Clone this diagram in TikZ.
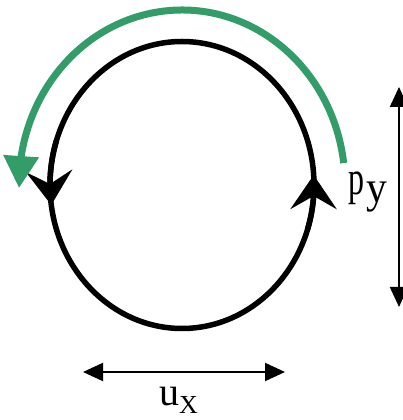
\documentclass[tikz,border=0pt]{standalone}
\usepackage{fontspec}
\setmainfont{Liberation Serif}
\usetikzlibrary{arrows.meta,bending}
\definecolor{flowgreen}{RGB}{50,157,104}
\tikzset{
  loopline/.style={draw, line width=5.5pt},
  dirtip/.style={line width=5.5pt, -{Stealth[length=34pt 0,width=46pt 0,inset=13pt 0]}},
  flowarrow/.style={draw=flowgreen, line width=7pt, -{Triangle[length=32pt,width=34pt,flex]}},
  dimarrow/.style={line width=2pt, {Triangle[length=20pt,width=18pt]}-{Triangle[length=20pt,width=18pt]}},
  lbl/.style={inner sep=0pt, anchor=base west}
}
\begin{document}
\begin{tikzpicture}[x=1pt,y=1pt]
  \useasboundingbox (0,0) rectangle (403,420);
  \coordinate (c) at (182,235);

  % closed orbit
  \draw[loopline] (c) ellipse [x radius=132, y radius=143.5];
  % direction marks on the orbit
  \coordinate (rtail) at ([shift={(-18:132 and 143.5)}]c);
  \coordinate (ltail) at ([shift={(162:132 and 143.5)}]c);
  \draw[dirtip] (rtail) arc[start angle=-18, end angle=4, x radius=132, y radius=143.5];
  \draw[dirtip] (ltail) arc[start angle=162, end angle=188, x radius=132, y radius=143.5];

  % green arrow round the top
  \coordinate (gstart) at ([shift={(7.2:163 and 175)}]c);
  \draw[flowarrow] (gstart) arc[start angle=7.2, end angle=181, x radius=163, y radius=175];

  % extents
  \coordinate (ytop) at (399,333);
  \coordinate (ybot) at (399,113);
  \coordinate (xleft) at (83,48);
  \coordinate (xright) at (285,48);
  \draw[dimarrow] (ytop) -- (ybot);
  \draw[dimarrow] (xleft) -- (xright);

  \node[lbl] (py) at (348,225) {\fontsize{32}{32}\selectfont\scalebox{1}[1.5]{p}\kern2pt\raisebox{-8pt}{\scalebox{1.3}[1.4]{y}}};
  \node[lbl] (ux) at (159,14) {\fontsize{40}{40}\selectfont u\raisebox{-8pt}{\fontsize{26}{26}\selectfont X}};
\end{tikzpicture}
\end{document}
